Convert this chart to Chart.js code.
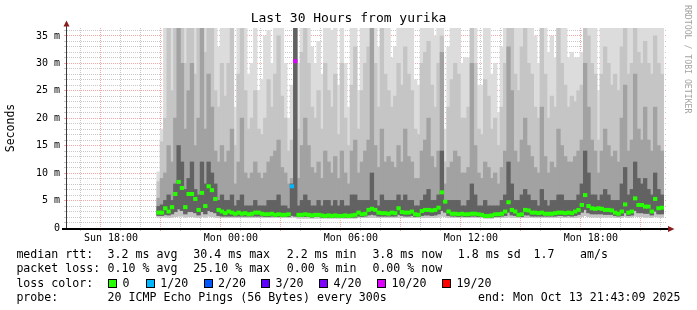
<!DOCTYPE html>
<html><head><meta charset="utf-8">
<script src="https://cdn.jsdelivr.net/npm/chart.js@4.4.1/dist/chart.umd.min.js"></script>
<style>
html,body{margin:0;padding:0;background:#fff;}
#wrap{position:relative;width:697px;height:310px;overflow:hidden;background:#fff;}
canvas{position:absolute;left:0;top:0;}
.t{position:absolute;font-family:"DejaVu Sans Mono",monospace;font-size:11.6px;line-height:14px;white-space:pre;color:#000;}
.box{position:absolute;width:7px;height:7px;border:1px solid #000;top:278.5px;}
#wm{position:absolute;left:682.5px;top:5px;writing-mode:vertical-rl;font-family:"DejaVu Sans Mono",monospace;font-size:8.2px;line-height:10px;color:#a3a3a3;white-space:pre;}
</style></head>
<body>
<div id="wrap">
<canvas id="c" width="697" height="310"></canvas>
<div id="wm">RRDTOOL / TOBI OETIKER</div>
<div class="t" style="left:16.4px;top:246.7px">median rtt:</div>
<div class="t" style="left:107.6px;top:246.7px">3.2 ms avg</div>
<div class="t" style="left:193.3px;top:246.7px">30.4 ms max</div>
<div class="t" style="left:286.7px;top:246.7px">2.2 ms min</div>
<div class="t" style="left:372.4px;top:246.7px">3.8 ms now</div>
<div class="t" style="left:457.8px;top:246.7px">1.8 ms sd</div>
<div class="t" style="left:533.5px;top:246.7px">1.7</div>
<div class="t" style="left:580px;top:246.7px">am/s</div>
<div class="t" style="left:16.4px;top:261.2px">packet loss:</div>
<div class="t" style="left:107.6px;top:261.2px">0.10 % avg</div>
<div class="t" style="left:193.3px;top:261.2px">25.10 % max</div>
<div class="t" style="left:286.7px;top:261.2px">0.00 % min</div>
<div class="t" style="left:372.4px;top:261.2px">0.00 % now</div>
<div class="t" style="left:16.4px;top:275.7px">loss color:</div>
<div id="lossLegend"></div>
<div class="t" style="left:16.4px;top:290.2px">probe:</div>
<div class="t" style="left:107.6px;top:290.2px">20 ICMP Echo Pings (56 Bytes) every 300s</div>
<div class="t" style="left:478px;top:290.2px">end: Mon Oct 13 21:43:09 2025</div>
</div>
<script>
// ---- tick labels ----
const xTickHours  = [18, 24, 30, 36, 42];
const xTickLabels = ['Sun 18:00', 'Mon 00:00', 'Mon 06:00', 'Mon 12:00', 'Mon 18:00'];
const yTickValues = [0, 5, 10, 15, 20, 25, 30, 35];
const yTickLabels = ['0', '5 m', '10 m', '15 m', '20 m', '25 m', '30 m', '35 m'];

// ---- loss classes ----
const lossLevels = [0, 1, 2, 3, 4, 10, 19];
const lossLabels = ['0', '1/20', '2/20', '3/20', '4/20', '10/20', '19/20'];
const lossColors = ['#26ff00', '#00b8ff', '#0059ff', '#5e00ff', '#7e00ff', '#dd00ff', '#ff0000'];

// ---- time of the columns (hours from Sun 00:00), 10-minute columns ----
const firstColumnHour = 20.3;
const columnHours = 1 / 6;

// ---- smoke: top of lightest smoke (max ping), ms ----
const maxRtt = [
 10.2,18,37,37,37,37,37,37,37,37,
 37,37,37,37,37,37,37,37,33,37,
 37,37,37,22,37,37,37,28,30,37,
 25,27,35,36,30,37,37,37,30,20,
 26,37,30,37,37,37,33,30,34,28,
 37,37,36,37,26,37,30,22,37,37,
 25,37,37,37,37,37,33,37,37,37,
 31,33,37,37,37,37,37,27,26,37,
 37,37,37,35,37,37,18,33,37,37,
 37,30,31,31,37,37,26,26,37,37,
 28,30,21,33,37,37,37,37,37,37,
 37,37,37,35,30,37,37,32,35,31,
 37,37,37,31,32,31,31,32,37,37,
 37,37,25,37,37,37,37,37,37,37,
 37,37,37,37,37,37,37,37,37,37,
 37,37];
// upper edge of 2nd smoke band
const upper1 = [
 8.4,15.7,20,37,25,37,37,37,30,37,
 37,28,37,37,32,37,37,25,22,30,
 24,30,37,15,28,37,25,18,20,25,
 18,17,20,27,22,28,35,24,20,14,
 16,37,18,32,37,30,22,20,25,18,
 30,25,22,28,17,30,20,15,26,33,
 18,25,30,33,37,30,22,37,28,25,
 22,24,30,26,33,28,25,18,17,30,
 32,34,26,22,30,35,12,22,27,30,
 28,20,20,22,37,30,18,17,27,24,
 18,20,15,22,30,37,37,28,25,33,
 37,30,28,22,20,37,28,20,24,22,
 37,30,26,22,24,23,25,26,37,35,
 30,28,16,28,33,30,26,28,25,33,
 37,28,30,37,32,30,34,30,28,35,
 30,28];
// upper edge of 3rd smoke band
const upper2 = [
 5.4,9,10,15,12,20,37,30,18,25,
 30,15,20,37,18,28,22,14,12,15,
 12,14,18,8,12,20,10,9,10,12,
 10,9,10,12,13,14,16,11,10,8,
 9,37,9,15,20,15,11,10,12,9,
 14,12,10,13,9,14,10,8,14,16,
 10,12,14,16,37,15,11,18,12,13,
 12,11,15,12,18,13,12,9,9,14,
 16,20,13,11,14,32,8,11,12,14,
 13,10,10,11,30,15,10,9,12,11,
 9,10,8,11,14,33,25,14,12,16,
 20,15,13,11,10,22,13,10,12,11,
 18,15,13,12,12,13,14,16,30,22,
 16,14,10,14,18,15,13,14,12,20,
 26,14,16,28,18,16,22,16,14,22,
 15,14];
// upper edge of darkest smoke band
const upper3 = [
 3.9,4.2,5,6,5,8,15,12,7,9,
 12,7,6,12,8,12,10,8,5,6,
 5,5,6,4,5,6,4,4,4,5,
 4,4,4,5,5,5,6,4,4,3.5,
 8,37,4,5,6,5,4,4,5,4,
 5,5,4,5,4,5,4,4,6,6,
 5,5,5,5,10,5,4,6,5,5,
 5,5,6,5,6,5,5,4,4,5,
 6,7,5,5,6,14,5,5,5,5,
 5,4,4,5,8,6,4,4,5,4,
 4,4,4,5,6,12,8,5,5,6,
 7,6,5,5,4,7,5,4,5,5,
 6,6,5,5,5,5,6,8,14,10,
 6,6,5,6,7,6,5,5,5,8,
 11,6,7,12,9,8,9,7,6,10,
 7,6];
// lowest ping
const minRtt = [
 2.0,2.0,2.0,1.9,2.0,2.1,2.2,2.2,2.0,2.1,
 2.1,2.0,1.9,2.1,2.0,2.2,2.1,2.0,1.9,1.9,
 1.9,1.9,1.9,1.9,1.9,1.9,1.9,1.9,1.9,1.9,
 1.9,1.9,1.9,1.9,1.9,1.9,1.9,1.9,1.9,1.9,
 2.0,2.0,1.8,1.8,1.8,1.8,1.8,1.8,1.8,1.8,
 1.8,1.8,1.8,1.8,1.8,1.8,1.8,1.8,1.8,1.8,
 1.9,1.9,1.9,1.9,1.9,1.9,1.9,1.9,1.9,1.9,
 1.9,1.9,1.9,1.9,1.9,1.9,1.9,1.9,1.9,1.9,
 1.9,1.9,1.9,1.9,2.0,2.2,2.1,1.9,1.9,1.9,
 1.9,1.9,1.9,1.9,1.9,1.9,1.9,1.9,1.8,1.8,
 1.8,1.9,1.9,1.9,1.9,2.0,1.9,1.9,1.9,1.9,
 1.9,1.9,1.9,1.9,1.9,1.9,1.9,1.9,1.9,1.9,
 1.9,1.9,1.9,1.9,1.9,1.9,2.0,2.1,2.3,2.1,
 2.0,2.0,2.0,2.0,2.0,2.0,2.0,1.9,1.9,1.9,
 2.1,1.9,2.0,2.2,2.1,2.1,2.0,2.0,1.9,2.1,
 2.0,2.0];
// lower edge of the darker smoke bands
const lowerQ = [
 2.3,2.3,2.5,2.4,2.6,3.0,3.5,3.2,2.6,3.0,
 3.0,2.8,2.4,3.0,2.6,3.2,3.0,2.8,2.3,2.2,
 2.2,2.2,2.2,2.2,2.2,2.2,2.2,2.2,2.2,2.2,
 2.2,2.2,2.1,2.1,2.2,2.1,2.1,2.1,2.1,2.1,
 2.3,2.2,2.1,2.1,2.1,2.1,2.0,2.1,2.1,2.0,
 2.0,2.0,2.0,2.0,2.0,2.0,2.0,2.0,2.0,2.0,
 2.2,2.1,2.2,2.4,2.5,2.4,2.2,2.2,2.2,2.2,
 2.2,2.2,2.5,2.3,2.2,2.2,2.3,2.1,2.1,2.3,
 2.4,2.4,2.3,2.4,2.6,3.2,2.9,2.3,2.2,2.2,
 2.1,2.2,2.1,2.1,2.2,2.2,2.1,2.1,2.0,2.0,
 2.0,2.1,2.1,2.2,2.3,2.9,2.4,2.3,2.1,2.1,
 2.4,2.4,2.2,2.2,2.2,2.2,2.2,2.2,2.2,2.2,
 2.3,2.3,2.2,2.3,2.2,2.3,2.5,2.9,3.4,2.8,
 2.6,2.6,2.6,2.6,2.5,2.5,2.5,2.3,2.2,2.3,
 2.8,2.3,2.4,3.2,2.8,2.8,2.7,2.7,2.4,3.1,
 2.6,2.6];
// median rtt, ms
const medianRtt = [
 2.8,2.8,3.6,3.0,3.8,6.2,8.4,7.3,3.8,6.2,
 6.2,5.3,3.3,6.4,4.0,7.6,6.9,5.3,3.3,3.0,
 2.7,3.0,2.8,2.6,2.8,2.6,2.7,2.5,2.6,2.8,
 2.8,2.6,2.5,2.5,2.6,2.4,2.5,2.4,2.4,2.5,
 7.6,30.4,2.4,2.4,2.5,2.4,2.3,2.4,2.4,2.3,
 2.2,2.3,2.2,2.3,2.2,2.2,2.3,2.2,2.3,2.4,
 2.8,2.5,2.6,3.3,3.5,3.3,2.8,2.7,2.7,2.6,
 2.8,2.7,3.6,2.9,2.8,2.8,3.0,2.5,2.4,3.1,
 3.3,3.3,3.2,3.3,3.7,6.5,4.8,3.0,2.6,2.6,
 2.5,2.6,2.5,2.5,2.6,2.6,2.5,2.4,2.2,2.2,
 2.3,2.5,2.5,2.6,3.0,4.7,3.3,3.0,2.4,2.5,
 3.3,3.2,2.8,2.8,2.7,2.8,2.6,2.6,2.6,2.7,
 2.8,2.8,2.7,2.8,2.7,3.0,3.3,4.2,6.0,4.0,
 3.6,3.5,3.6,3.5,3.3,3.3,3.2,2.8,2.6,3.0,
 4.3,2.8,3.0,5.4,4.2,4.2,3.9,3.9,3.0,5.3,
 3.6,3.7];
// lost pings (of 20) per column
const lostPings = [
 0,0,0,0,0,0,0,0,0,0, 0,0,0,0,0,0,0,0,0,0,
 0,0,0,0,0,0,0,0,0,0, 0,0,0,0,0,0,0,0,0,0,
 1,10,0,0,0,0,0,0,0,0, 0,0,0,0,0,0,0,0,0,0,
 0,0,0,0,0,0,0,0,0,0, 0,0,0,0,0,0,0,0,0,0,
 0,0,0,0,0,0,0,0,0,0, 0,0,0,0,0,0,0,0,0,0,
 0,0,0,0,0,0,0,0,0,0, 0,0,0,0,0,0,0,0,0,0,
 0,0,0,0,0,0,0,0,0,0, 0,0,0,0,0,0,0,0,0,0,
 0,0,0,0,0,0,0,0,0,0, 0,0,0,0,0,0,0,0,0,0,
 0,0];

// ---- legend boxes (html) ----
const boxLeft = [108, 145.8, 203.6, 261, 319, 377, 442];
const lossLegend = document.getElementById('lossLegend');
lossLevels.forEach((lv, i) => {
  const b = document.createElement('div');
  b.className = 'box'; b.style.left = boxLeft[i] + 'px'; b.style.background = lossColors[i];
  lossLegend.appendChild(b);
  const t = document.createElement('div');
  t.className = 't'; t.style.left = (boxLeft[i] + 14.5) + 'px'; t.style.top = '275.7px';
  t.textContent = lossLabels[i];
  lossLegend.appendChild(t);
});

// ---- build datasets ----
const colX = i => firstColumnHour + (i + 0.5) * columnHours;
const band = (lo, hi) => hi.map((h, i) => ({x: colX(i), y: [lo[i], h]}));
function lossColor(n) {
  let k = 0;
  lossLevels.forEach((lv, i) => { if (n >= lv) k = i; });
  return lossColors[k];
}
const medHalf = 0.27;
const medianData = medianRtt.map((m, i) => ({x: colX(i), y: [m - medHalf, m + medHalf]}));
const medianColors = lostPings.map(lossColor);

const FONT = "'DejaVu Sans Mono'";
const barCommon = {grouped: false, barPercentage: 1, categoryPercentage: 1, borderWidth: 0, inflateAmount: 0.5};

const axesPlugin = {
  id: 'rrdAxes',
  afterDraw(chart) {
    const {ctx, chartArea: a} = chart;
    ctx.save();
    ctx.strokeStyle = '#3a3a3a'; ctx.lineWidth = 1;
    ctx.beginPath(); ctx.moveTo(a.left - 0.5, a.bottom + 2); ctx.lineTo(a.left - 0.5, a.top - 3); ctx.stroke();
    ctx.strokeStyle = '#000'; ctx.lineWidth = 2;
    ctx.beginPath(); ctx.moveTo(a.left - 5, a.bottom + 1); ctx.lineTo(a.right + 1, a.bottom + 1); ctx.stroke();
    ctx.fillStyle = '#8b1c1c';
    ctx.beginPath(); ctx.moveTo(a.left - 3.5, a.top - 1.5); ctx.lineTo(a.left + 2.5, a.top - 1.5); ctx.lineTo(a.left - 0.5, a.top - 7.5); ctx.closePath(); ctx.fill();
    ctx.beginPath(); ctx.moveTo(a.right + 1, a.bottom - 2); ctx.lineTo(a.right + 1, a.bottom + 4); ctx.lineTo(a.right + 7.5, a.bottom + 1); ctx.closePath(); ctx.fill();
    ctx.restore();
  }
};

const minorGrid = 'rgba(110,110,110,0.38)';
const majorGrid = 'rgba(230,60,60,0.45)';

new Chart(document.getElementById('c'), {
  type: 'bar',
  data: {
    datasets: [
      Object.assign({label: 'median', data: medianData, backgroundColor: medianColors, order: 0}, barCommon),
      Object.assign({label: 'smoke4', data: band(lowerQ, upper3), backgroundColor: '#626262', order: 1}, barCommon),
      Object.assign({label: 'smoke3', data: band(lowerQ, upper2), backgroundColor: '#a2a2a2', order: 2}, barCommon),
      Object.assign({label: 'smoke2', data: band(minRtt, upper1), backgroundColor: '#c5c5c5', order: 3}, barCommon),
      Object.assign({label: 'smoke1', data: band(minRtt, maxRtt), backgroundColor: '#dcdcdc', order: 4}, barCommon)
    ]
  },
  options: {
    responsive: false, animation: false, devicePixelRatio: 1,
    layout: {padding: {left: 0, right: 0, top: 0, bottom: 0}, autoPadding: false},
    plugins: {
      legend: {display: false}, tooltip: {enabled: false},
      title: {display: true, text: 'Last 30 Hours from yurika', color: '#000',
              font: {family: FONT, size: 13, weight: 'normal'}, padding: {top: 11, bottom: 1.4}}
    },
    scales: {
      x: {
        type: 'linear', min: 15.8, max: 45.81, offset: false, z: 1,
        afterFit: s => { s.height = 82; },
        border: {display: false, dash: [1, 1]},
        grid: {color: c => (c.tick && c.tick.value % 3 === 0) ? majorGrid : minorGrid, lineWidth: 1, tickLength: 3},
        ticks: {stepSize: 1, includeBounds: false, autoSkip: false, maxRotation: 0, padding: 1, color: '#000',
                font: {family: FONT, size: 10},
                callback: v => { const k = xTickHours.indexOf(v); return k < 0 ? '' : xTickLabels[k]; }}
      },
      y: {
        min: 0, max: 36.45, z: 1,
        afterFit: s => { s.width = 67; },
        border: {display: false, dash: [1, 1]},
        grid: {color: c => (c.tick && c.tick.value % 5 === 0) ? majorGrid : minorGrid, lineWidth: 1, tickLength: 3},
        title: {display: true, text: 'Seconds', color: '#000', font: {family: FONT, size: 11.5}, padding: {top: 4, bottom: 0}},
        ticks: {stepSize: 1, includeBounds: false, autoSkip: false, padding: 4, color: '#000',
                font: {family: FONT, size: 10},
                callback: v => { const k = yTickValues.indexOf(v); return k < 0 ? '' : yTickLabels[k]; }}
      },
      margin: {
        type: 'linear', position: 'right', display: true, min: 0, max: 1,
        afterFit: s => { s.width = 30; },
        border: {display: false}, grid: {display: false}, ticks: {display: false}
      }
    }
  },
  plugins: [axesPlugin]
});
</script>
</body></html>
